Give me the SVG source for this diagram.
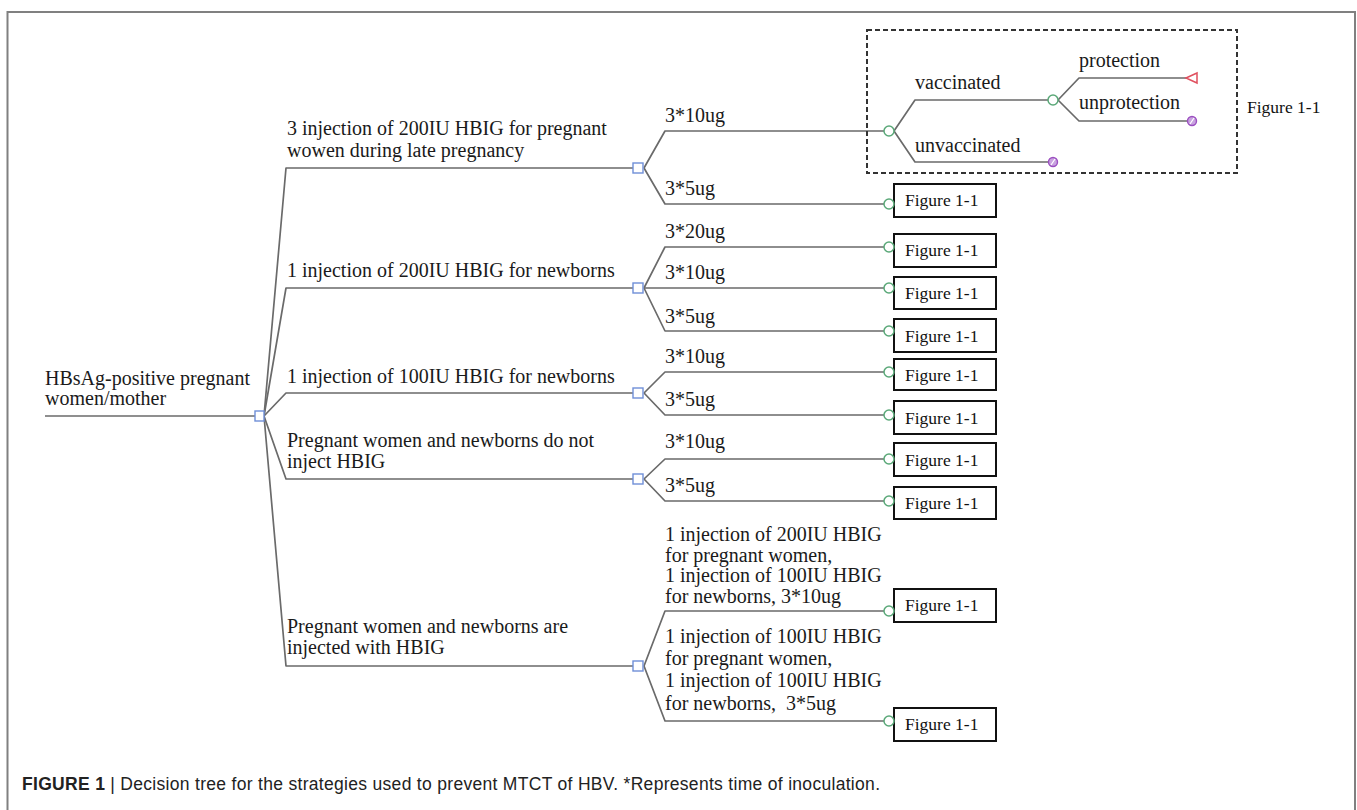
<svg xmlns="http://www.w3.org/2000/svg" width="1357" height="810" viewBox="0 0 1357 810">
<style>
.ln{fill:none;stroke:#6a6a6a;stroke-width:1.7;stroke-linejoin:round}
.t{font-family:"Liberation Serif","Times New Roman",serif;font-size:20px;fill:#1a1a1a}
.ft{font-family:"Liberation Serif","Times New Roman",serif;font-size:17.5px;fill:#111}
.sq{fill:#fff;stroke:#6f8fd8;stroke-width:1.4}
.ch{fill:#fff;stroke:#5aa878;stroke-width:1.5}
.box{fill:#fff;stroke:#111;stroke-width:2}
.term{fill:#c9a3e0;stroke:#9b4fc0;stroke-width:1.4}
.tri{fill:#fff;stroke:#e0505f;stroke-width:1.5}
.cap{font-family:"Liberation Sans",Arial,sans-serif;font-size:17.5px;fill:#222}
</style>
<rect width="1357" height="810" fill="#fff"/>
<path d="M7.5,812 V12 H1355 V812" fill="none" stroke="#808080" stroke-width="2"/>

<g id="connectors">
  <path class="ln" d="M45,416 H255"/>
  <path class="ln" d="M264,416 L286,168 H633"/>
  <path class="ln" d="M264,416 L286,288 H633"/>
  <path class="ln" d="M264,416 L286,393 H633"/>
  <path class="ln" d="M264,416 L286,479 H633"/>
  <path class="ln" d="M264,416 L286,666 H633"/>
  <path class="ln" d="M644,168 L665,131 H884"/>
  <path class="ln" d="M644,168 L665,204 H884"/>
  <path class="ln" d="M644,288 L665,247 H884"/>
  <path class="ln" d="M644,288 H884"/>
  <path class="ln" d="M644,288 L665,331 H884"/>
  <path class="ln" d="M644,393 L665,372 H884"/>
  <path class="ln" d="M644,393 L665,415 H884"/>
  <path class="ln" d="M644,479 L665,459 H884"/>
  <path class="ln" d="M644,479 L665,501 H884"/>
  <path class="ln" d="M644,666 L665,611 H884"/>
  <path class="ln" d="M644,666 L665,721 H884"/>
  <path class="ln" d="M894,131 L915,100 H1048"/>
  <path class="ln" d="M894,131 L915,162 H1048"/>
  <path class="ln" d="M1058,100 L1079,78 H1186"/>
  <path class="ln" d="M1058,100 L1079,121 H1187"/>
</g>

<g id="root">
  <text class="t" x="45" y="385">HBsAg-positive pregnant</text>
  <text class="t" x="45" y="405">women/mother</text>
  <rect class="sq" x="255" y="411" width="9" height="10"/>
</g>

<g id="s1">
  <text class="t" x="287" y="135">3 injection of 200IU HBIG for pregnant</text>
  <text class="t" x="287" y="157">wowen during late pregnancy</text>
  <rect class="sq" x="633" y="163" width="10" height="10"/>
  <text class="t" x="665" y="122">3*10ug</text>
  <text class="t" x="665" y="195">3*5ug</text>
</g>
<g id="s2">
  <text class="t" x="287" y="277">1 injection of 200IU HBIG for newborns</text>
  <rect class="sq" x="633" y="283" width="10" height="10"/>
  <text class="t" x="665" y="238">3*20ug</text>
  <text class="t" x="665" y="279">3*10ug</text>
  <text class="t" x="665" y="323">3*5ug</text>
</g>
<g id="s3">
  <text class="t" x="287" y="383">1 injection of 100IU HBIG for newborns</text>
  <rect class="sq" x="633" y="388" width="10" height="10"/>
  <text class="t" x="665" y="363">3*10ug</text>
  <text class="t" x="665" y="406">3*5ug</text>
</g>
<g id="s4">
  <text class="t" x="287" y="447">Pregnant women and newborns do not</text>
  <text class="t" x="287" y="468">inject HBIG</text>
  <rect class="sq" x="633" y="474" width="10" height="10"/>
  <text class="t" x="665" y="448">3*10ug</text>
  <text class="t" x="665" y="492">3*5ug</text>
</g>
<g id="s5">
  <text class="t" x="287" y="633">Pregnant women and newborns are</text>
  <text class="t" x="287" y="654">injected with HBIG</text>
  <rect class="sq" x="633" y="661" width="10" height="10"/>
  <text class="t" x="665" y="541">1 injection of 200IU HBIG</text>
  <text class="t" x="665" y="562">for pregnant women,</text>
  <text class="t" x="665" y="582">1 injection of 100IU HBIG</text>
  <text class="t" x="665" y="603">for newborns, 3*10ug</text>
  <text class="t" x="665" y="643">1 injection of 100IU HBIG</text>
  <text class="t" x="665" y="665">for pregnant women,</text>
  <text class="t" x="665" y="687">1 injection of 100IU HBIG</text>
  <text class="t" x="665" y="710" xml:space="preserve">for newborns,  3*5ug</text>
</g>

<g id="figure-detail">
  <rect x="867" y="30" width="370" height="143" fill="none" stroke="#333" stroke-width="2" stroke-dasharray="5,3"/>
  <circle class="ch" cx="889" cy="131" r="5"/>
  <text class="t" x="915" y="89">vaccinated</text>
  <text class="t" x="915" y="152">unvaccinated</text>
  <circle class="ch" cx="1053" cy="100" r="5"/>
  <text class="t" x="1079" y="67">protection</text>
  <text class="t" x="1079" y="109">unprotection</text>
  <polygon class="tri" points="1186,78 1197,73 1197,83"/>
  <g id="term1"><circle class="term" cx="1192" cy="121" r="4.5"/><path d="M1190,124 L1194,118" stroke="#fff" stroke-width="1.2"/></g>
  <g id="term2"><circle class="term" cx="1053" cy="162" r="4.5"/><path d="M1051,165 L1055,159" stroke="#fff" stroke-width="1.2"/></g>
  <text class="ft" x="1247" y="113">Figure 1-1</text>
</g>

<g id="c1"><rect class="box" x="894" y="184" width="102" height="33"/><circle class="ch" cx="889" cy="204" r="5"/><text class="ft" x="905" y="206">Figure 1-1</text></g>
<g id="c2"><rect class="box" x="894" y="234" width="102" height="33"/><circle class="ch" cx="889" cy="247" r="5"/><text class="ft" x="905" y="256">Figure 1-1</text></g>
<g id="c3"><rect class="box" x="894" y="277" width="102" height="32"/><circle class="ch" cx="889" cy="288" r="5"/><text class="ft" x="905" y="299">Figure 1-1</text></g>
<g id="c4"><rect class="box" x="894" y="319" width="102" height="33"/><circle class="ch" cx="889" cy="331" r="5"/><text class="ft" x="905" y="342">Figure 1-1</text></g>
<g id="c5"><rect class="box" x="894" y="359" width="102" height="31"/><circle class="ch" cx="889" cy="372" r="5"/><text class="ft" x="905" y="381">Figure 1-1</text></g>
<g id="c6"><rect class="box" x="894" y="401" width="102" height="33"/><circle class="ch" cx="889" cy="415" r="5"/><text class="ft" x="905" y="424">Figure 1-1</text></g>
<g id="c7"><rect class="box" x="894" y="443" width="102" height="33"/><circle class="ch" cx="889" cy="459" r="5"/><text class="ft" x="905" y="466">Figure 1-1</text></g>
<g id="c8"><rect class="box" x="894" y="487" width="102" height="32"/><circle class="ch" cx="889" cy="501" r="5"/><text class="ft" x="905" y="509">Figure 1-1</text></g>
<g id="c9"><rect class="box" x="894" y="589" width="102" height="33"/><circle class="ch" cx="889" cy="611" r="5"/><text class="ft" x="905" y="611">Figure 1-1</text></g>
<g id="c10"><rect class="box" x="894" y="708" width="102" height="33"/><circle class="ch" cx="889" cy="721" r="5"/><text class="ft" x="905" y="730">Figure 1-1</text></g>

<text class="cap" x="22" y="790" textLength="858" lengthAdjust="spacing"><tspan font-weight="bold">FIGURE 1</tspan> | Decision tree for the strategies used to prevent MTCT of HBV. *Represents time of inoculation.</text>
</svg>
